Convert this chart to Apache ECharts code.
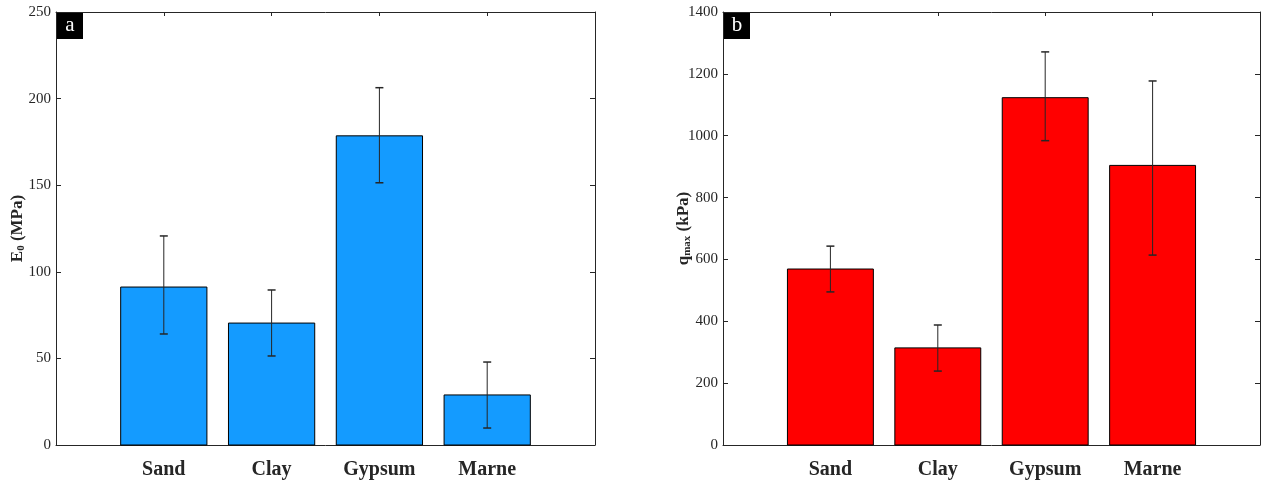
<!DOCTYPE html>
<html>
<head>
<meta charset="utf-8">
<script src="https://cdn.jsdelivr.net/npm/echarts@6/dist/echarts.min.js"></script>
<style>
html,body{margin:0;padding:0;background:#fff;}
#chart{width:1263px;height:484px;}
</style>
</head>
<body>
<div id="chart"></div>
<script>
const categories = ['Sand', 'Clay', 'Gypsum', 'Marne'];
const e0Mean = [91.2, 70.4, 178.5, 28.9];
const e0Low  = [64.1, 51.4, 151.4, 9.8];
const e0High = [120.7, 89.5, 206.3, 47.9];
const qMean  = [569, 314, 1123, 904];
const qLow   = [495, 239, 984, 614];
const qHigh  = [643, 388, 1271, 1177];
const e0Ticks = [0, 50, 100, 150, 200, 250];
const qTicks = [0, 200, 400, 600, 800, 1000, 1200, 1400];

const FONT = 'Liberation Serif';
const AX = '#262626';

function rows(mean, low, high) {
  return mean.map((m, i) => [i + 1, m, low[i], high[i]]);
}

function makeRender(color) {
  return function (params, api) {
    const x = api.value(0), m = api.value(1), lo = api.value(2), hi = api.value(3);
    const base = api.coord([x, 0]);
    const top = api.coord([x, m]);
    const w = api.size([0.8, 0])[0];
    const pLo = api.coord([x, lo]);
    const pHi = api.coord([x, hi]);
    const cap = 4;
    return {
      type: 'group',
      children: [
        { type: 'rect', shape: { x: base[0] - w / 2, y: top[1], width: w, height: base[1] - top[1] },
          style: { fill: color, stroke: '#000', lineWidth: 1 } },
        { type: 'line', shape: { x1: pLo[0], y1: pLo[1], x2: pHi[0], y2: pHi[1] },
          style: { stroke: AX, lineWidth: 1 } },
        { type: 'line', shape: { x1: pLo[0] - cap, y1: pLo[1], x2: pLo[0] + cap, y2: pLo[1] },
          style: { stroke: AX, lineWidth: 1.5 } },
        { type: 'line', shape: { x1: pHi[0] - cap, y1: pHi[1], x2: pHi[0] + cap, y2: pHi[1] },
          style: { stroke: AX, lineWidth: 1.5 } }
      ]
    };
  };
}

function xAxes(gi) {
  return [
    { type: 'value', gridIndex: gi, min: 0, max: categories.length + 1, interval: 1, position: 'bottom',
      axisLine: { show: true, onZero: false, lineStyle: { color: AX, width: 1 } },
      axisTick: { show: true, inside: true, length: 5, lineStyle: { color: AX } },
      splitLine: { show: false },
      axisLabel: { margin: 15, color: AX, fontFamily: FONT, fontWeight: 'bold', fontSize: 20,
        formatter: v => (v >= 1 && v <= categories.length) ? categories[v - 1] : '' } },
    { type: 'value', gridIndex: gi, min: 0, max: categories.length + 1, interval: 1, position: 'top',
      axisLine: { show: true, onZero: false, lineStyle: { color: AX, width: 1 } },
      axisTick: { show: true, inside: true, length: 4, lineStyle: { color: AX } },
      splitLine: { show: false }, axisLabel: { show: false } }
  ];
}

function yAxes(gi, ticks, nameRich, gap) {
  const max = ticks[ticks.length - 1];
  const interval = ticks[1] - ticks[0];
  return [
    { type: 'value', gridIndex: gi, min: ticks[0], max: max, interval: interval, position: 'left',
      name: nameRich, nameLocation: 'middle', nameGap: gap, nameMoveOverlap: false,
      nameTextStyle: { color: AX, fontFamily: FONT, fontWeight: 'bold', fontSize: 17,
        rich: {
          b: { fontFamily: FONT, fontWeight: 'bold', fontSize: 17, color: AX },
          s: { fontFamily: FONT, fontWeight: 'bold', fontSize: 11, color: AX, verticalAlign: 'bottom', padding: [8, 0, 0, 0] }
        } },
      axisLine: { show: true, onZero: false, lineStyle: { color: AX, width: 1 } },
      axisTick: { show: true, inside: true, length: 5, lineStyle: { color: AX } },
      splitLine: { show: false },
      axisLabel: { margin: 5, color: AX, fontFamily: FONT, fontSize: 15, formatter: v => String(v) } },
    { type: 'value', gridIndex: gi, min: ticks[0], max: max, interval: interval, position: 'right',
      axisLine: { show: true, onZero: false, lineStyle: { color: AX, width: 1 } },
      axisTick: { show: true, inside: true, length: 5, lineStyle: { color: AX } },
      splitLine: { show: false }, axisLabel: { show: false } }
  ];
}

const chart = echarts.init(document.getElementById('chart'), null, { renderer: 'canvas' });
const option = {
  backgroundColor: '#fff',
  animation: false,
  grid: [
    { left: 56, right: 668, top: 12, bottom: 39 },
    { left: 723, right: 1, top: 12, bottom: 39 }
  ],
  xAxis: [...xAxes(0), ...xAxes(1)],
  yAxis: [...yAxes(0, e0Ticks, '{b|E}{s|0}{b| (MPa)}', 29), ...yAxes(1, qTicks, '{b|q}{s|max}{b| (kPa)}', 30)],
  series: [
    { type: 'custom', xAxisIndex: 0, yAxisIndex: 0, renderItem: makeRender('#149bff'),
      encode: { x: 0, y: [1, 2, 3] }, data: rows(e0Mean, e0Low, e0High), z: 1 },
    { type: 'custom', xAxisIndex: 2, yAxisIndex: 2, renderItem: makeRender('#ff0000'),
      encode: { x: 0, y: [1, 2, 3] }, data: rows(qMean, qLow, qHigh), z: 1 }
  ],
  graphic: [
    { type: 'group', left: 57, top: 12, z: 100, children: [
      { type: 'rect', shape: { x: 0, y: 0, width: 26, height: 27 }, style: { fill: '#000' } },
      { type: 'text', x: 13, y: 13, style: { text: 'a', fill: '#fff', font: '21px "Liberation Serif"', align: 'center', verticalAlign: 'middle' } }
    ]},
    { type: 'group', left: 724, top: 12, z: 100, children: [
      { type: 'rect', shape: { x: 0, y: 0, width: 26, height: 27 }, style: { fill: '#000' } },
      { type: 'text', x: 13, y: 13, style: { text: 'b', fill: '#fff', font: '21px "Liberation Serif"', align: 'center', verticalAlign: 'middle' } }
    ]}
  ]
};
chart.setOption(option);
</script>
</body>
</html>
